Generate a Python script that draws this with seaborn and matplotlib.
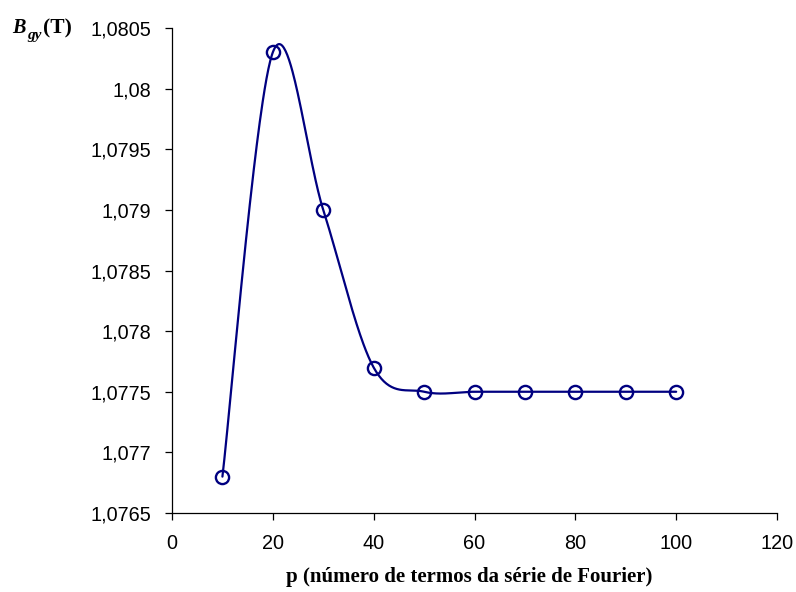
import numpy as np
import pandas as pd
import matplotlib
matplotlib.use("Agg")
import matplotlib.pyplot as plt
from matplotlib.ticker import FuncFormatter
import seaborn as sns

# Flux density at the gap vs. number of Fourier terms
p_terms = [10, 20, 30, 40, 50, 60, 70, 80, 90, 100]
b_gy = [1.0768, 1.0803, 1.0790, 1.0777, 1.0775, 1.0775, 1.0775, 1.0775, 1.0775, 1.0775]

x_ticks = [0, 20, 40, 60, 80, 100, 120]
y_ticks = [1.0765, 1.077, 1.0775, 1.078, 1.0785, 1.079, 1.0795, 1.08, 1.0805]

x_label = "p (número de termos da série de Fourier)"

NAVY = "#000080"
W, H = 796, 592


def smooth_curve(xs, ys, n=60):
    """Catmull-Rom style cubic Bezier through every point (spreadsheet 'smoothed line')."""
    xs = np.asarray(xs, float)
    ys = np.asarray(ys, float)
    px = np.concatenate([[xs[0]], xs, [xs[-1]]])
    py = np.concatenate([[ys[0]], ys, [ys[-1]]])
    t = np.linspace(0, 1, n)[:, None]
    out_x, out_y = [], []
    for i in range(1, len(px) - 2):
        p0 = np.array([px[i], py[i]])
        p3 = np.array([px[i + 1], py[i + 1]])
        c1 = p0 + (np.array([px[i + 1], py[i + 1]]) - np.array([px[i - 1], py[i - 1]])) / 6
        c2 = p3 - (np.array([px[i + 2], py[i + 2]]) - np.array([px[i], py[i]])) / 6
        seg = ((1 - t) ** 3) * p0 + 3 * ((1 - t) ** 2) * t * c1 + 3 * (1 - t) * t ** 2 * c2 + t ** 3 * p3
        if i > 1:
            seg = seg[1:]
        out_x.append(seg[:, 0])
        out_y.append(seg[:, 1])
    return np.concatenate(out_x), np.concatenate(out_y)


sns.set_theme(style="white")
plt.rcParams["font.family"] = ["Liberation Sans", "DejaVu Sans"]

fig = plt.figure(figsize=(W / 100, H / 100), dpi=100)
ax = fig.add_axes([172 / W, 1 - 513 / H, (777 - 172) / W, (513 - 28) / H])

sx, sy = smooth_curve(p_terms, b_gy)
curve = pd.DataFrame({"p": sx, "b": sy})
pts = pd.DataFrame({"p": p_terms, "b": b_gy})

sns.lineplot(data=curve, x="p", y="b", ax=ax, color=NAVY, linewidth=1.6, sort=False,
             estimator=None)
sns.lineplot(data=pts, x="p", y="b", ax=ax, linestyle="", marker="o", markersize=9.5,
             markerfacecolor="none", markeredgecolor=NAVY, markeredgewidth=1.7,
             estimator=None)

ax.set_xlim(x_ticks[0], x_ticks[-1])
ax.set_ylim(y_ticks[0], y_ticks[-1])
ax.set_xticks(x_ticks)
ax.set_yticks(y_ticks)


def comma_fmt(v, _pos):
    s = f"{v:.4f}".rstrip("0").rstrip(".")
    return s.replace(".", ",")


ax.yaxis.set_major_formatter(FuncFormatter(comma_fmt))
ax.xaxis.set_major_formatter(FuncFormatter(lambda v, _p: f"{v:.0f}"))

for side in ("top", "right"):
    ax.spines[side].set_visible(False)
for side in ("left", "bottom"):
    ax.spines[side].set_color("black")
    ax.spines[side].set_linewidth(0.9)

ax.tick_params(axis="both", which="major", direction="out", length=5, width=0.9,
               color="black", labelsize=14.3, labelcolor="black", left=True,
               bottom=True)
ax.tick_params(axis="y", pad=10)
ax.tick_params(axis="x", pad=10)
ax.grid(False)
ax.set_xlabel("")
ax.set_ylabel("")

fig.text(469.5 / W, 1 - 582 / H, x_label, ha="center", va="baseline",
         fontsize=15, fontweight="bold", family=["Liberation Serif", "DejaVu Serif"],
         color="black")

# Axis title B_gy (T) at the top-left corner
serif = ["Liberation Serif", "DejaVu Serif"]
fig.text(12 / W, 1 - 33 / H, "B", ha="left", va="baseline", fontsize=14.5,
         fontweight="bold", fontstyle="italic", family=serif, color="black")
fig.text(27 / W, 1 - 39.5 / H, "gy", ha="left", va="baseline", fontsize=11,
         fontweight="bold", fontstyle="italic", family=serif, color="black")
fig.text(43 / W, 1 - 33 / H, "(T)", ha="left", va="baseline", fontsize=15.5,
         fontweight="bold", family=serif, color="black")

fig.savefig("out.png", dpi=100, facecolor="white")
